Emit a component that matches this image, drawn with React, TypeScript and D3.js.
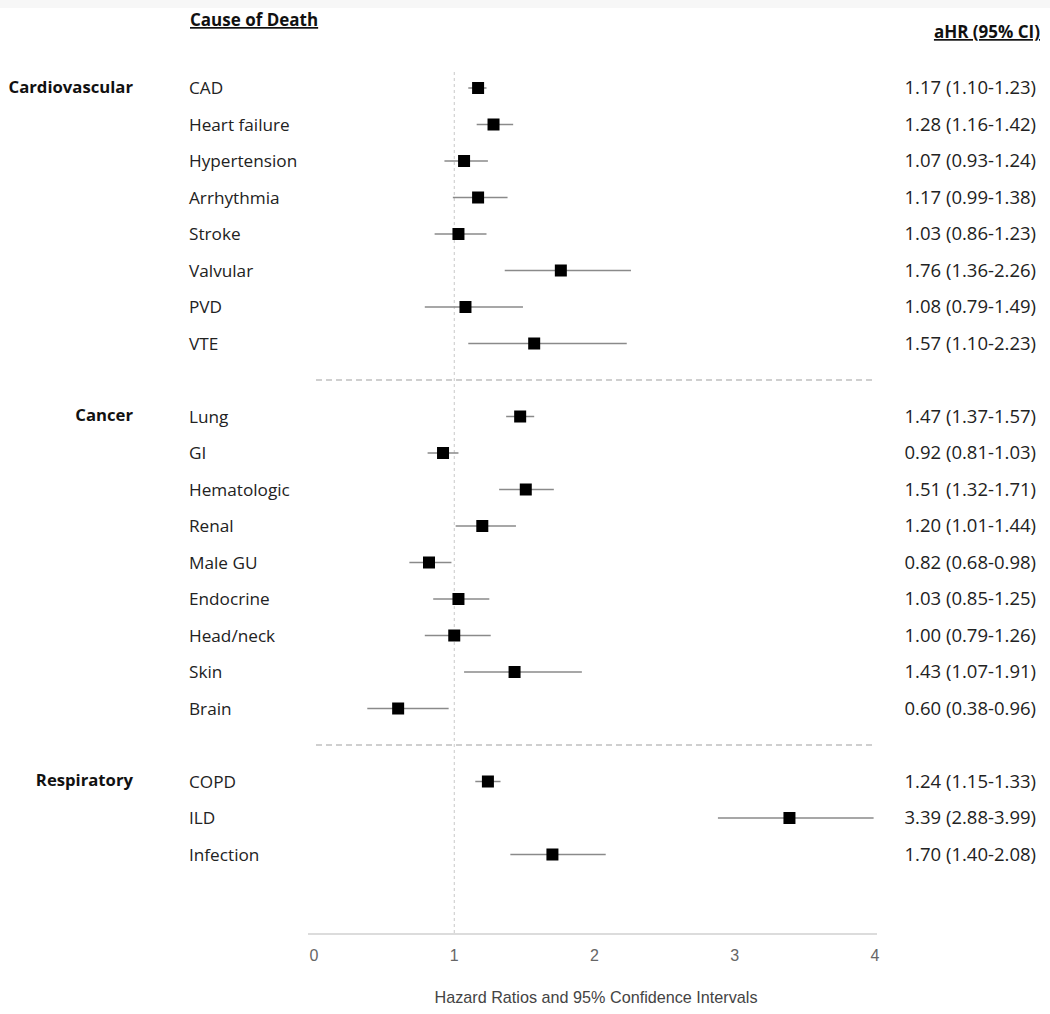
import React from "react";
import * as d3 from "d3";

const groups = ["Cardiovascular", "Cancer", "Respiratory"];
const groupOf = [0, 0, 0, 0, 0, 0, 0, 0, 1, 1, 1, 1, 1, 1, 1, 1, 1, 2, 2, 2];
const causes = [
  "CAD", "Heart failure", "Hypertension", "Arrhythmia", "Stroke", "Valvular", "PVD", "VTE",
  "Lung", "GI", "Hematologic", "Renal", "Male GU", "Endocrine", "Head/neck", "Skin", "Brain",
  "COPD", "ILD", "Infection",
];
const hr = [1.17, 1.28, 1.07, 1.17, 1.03, 1.76, 1.08, 1.57, 1.47, 0.92, 1.51, 1.2, 0.82, 1.03, 1.0, 1.43, 0.6, 1.24, 3.39, 1.7];
const lo = [1.1, 1.16, 0.93, 0.99, 0.86, 1.36, 0.79, 1.1, 1.37, 0.81, 1.32, 1.01, 0.68, 0.85, 0.79, 1.07, 0.38, 1.15, 2.88, 1.4];
const hi = [1.23, 1.42, 1.24, 1.38, 1.23, 2.26, 1.49, 2.23, 1.57, 1.03, 1.71, 1.44, 0.98, 1.25, 1.26, 1.91, 0.96, 1.33, 3.99, 2.08];
const xTicks = [0, 1, 2, 3, 4];

const bodyFont = "'Open Sans', 'Noto Sans', sans-serif";
const axisFont = "'Liberation Sans', Arial, sans-serif";

export default function App() {
  const W = 1050, H = 1014;
  const x = d3.scaleLinear().domain([0, 4]).range([314, 875]);
  const slot = causes.map((_, i) => i + groupOf[i]);
  const y = d3.scaleLinear().domain([0, 21]).range([88, 854.5]);
  const sep = [8, 18];
  const fmt = d3.format(".2f");
  const firstIdx = groups.map((_, g) => groupOf.indexOf(g));
  const sq = 12;

  return (
    <svg width={W} height={H} style={{ position: "absolute", left: 0, top: 0, background: "#fff" }}>
      <rect x={0} y={0} width={W} height={8} fill="#f7f7f7" />
      <text x={190} y={26} fontFamily={bodyFont} fontWeight={700} fontSize={17} fill="#111" textDecoration="underline">Cause of Death</text>
      <text x={1040} y={38} fontFamily={bodyFont} fontWeight={700} fontSize={17} fill="#111" textAnchor="end" textDecoration="underline">aHR (95% CI)</text>

      <line x1={x(1)} x2={x(1)} y1={72} y2={934} stroke="#c8c8c8" strokeWidth={1} strokeDasharray="3,3" />

      {sep.map((s) => (
        <line key={s} x1={316} x2={876} y1={y(s)} y2={y(s)} stroke="#a0a0a0" strokeWidth={1.2} strokeDasharray="6,4" />
      ))}

      {groups.map((g, gi) => (
        <text key={g} x={133} y={y(slot[firstIdx[gi]]) - 1} dy="0.35em" textAnchor="end" fontFamily={bodyFont} fontWeight={700} fontSize={16.7} fill="#111">{g}</text>
      ))}

      {causes.map((c, i) => {
        const yy = y(slot[i]);
        return (
          <g key={c}>
            <text x={189} y={yy} dy="0.35em" fontFamily={bodyFont} fontSize={17.2} fill="#222">{c}</text>
            <line x1={x(lo[i])} x2={x(hi[i])} y1={yy} y2={yy} stroke="#8a8a8a" strokeWidth={1.5} />
            <rect x={x(hr[i]) - sq / 2} y={yy - sq / 2} width={sq} height={sq} fill="#000" />
            <text x={1036} y={yy} dy="0.35em" textAnchor="end" fontFamily={bodyFont} fontSize={18.5} fill="#222">
              {`${fmt(hr[i])} (${fmt(lo[i])}-${fmt(hi[i])})`}
            </text>
          </g>
        );
      })}

      <line x1={x(0) - 6} x2={x(4) + 2} y1={934} y2={934} stroke="#d0d0d0" strokeWidth={1.5} />
      {xTicks.map((t) => (
        <text key={t} x={x(t)} y={961} textAnchor="middle" fontFamily={axisFont} fontSize={16} fill="#666">{t}</text>
      ))}
      <text x={596} y={1003} textAnchor="middle" fontFamily={axisFont} fontSize={16.2} fill="#444">Hazard Ratios and 95% Confidence Intervals</text>
    </svg>
  );
}
